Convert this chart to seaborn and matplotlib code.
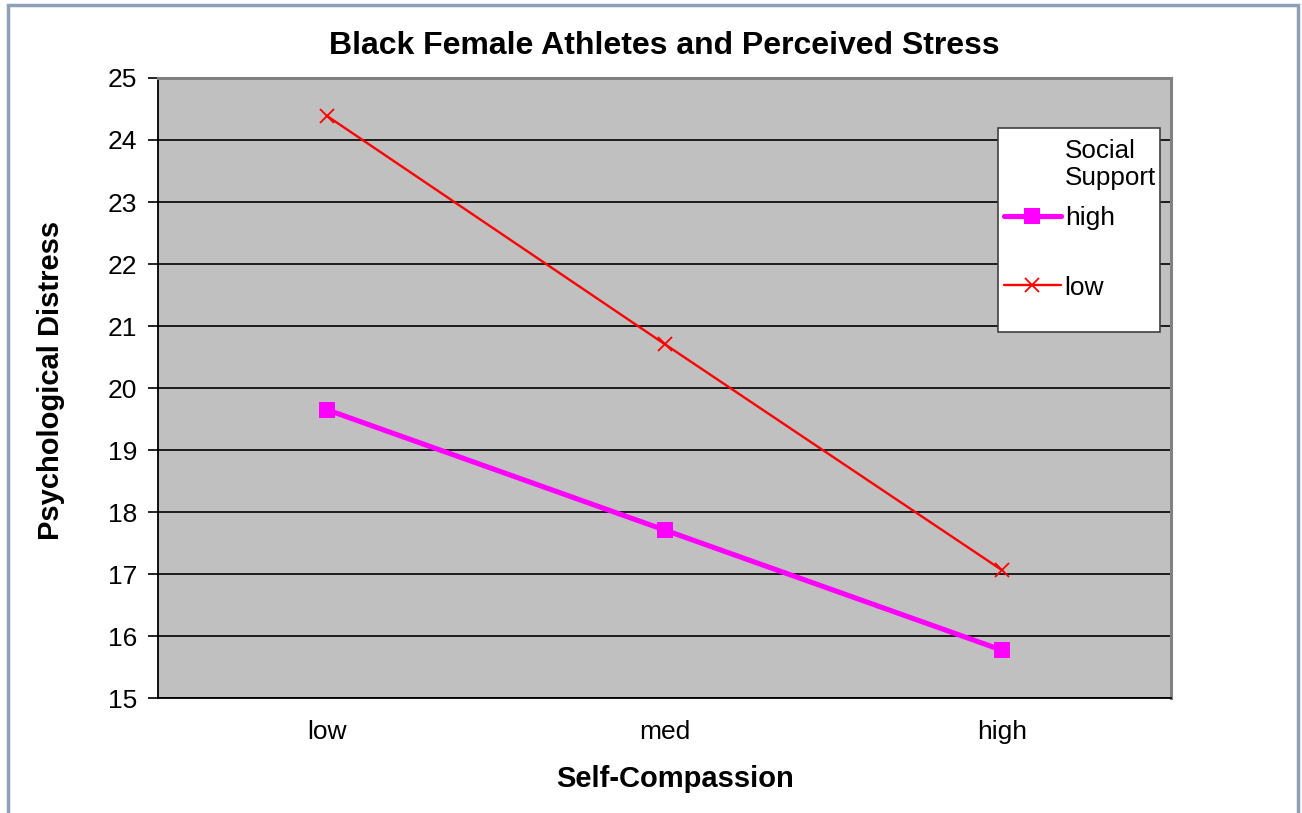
import numpy as np
import pandas as pd
import seaborn as sns
import matplotlib.pyplot as plt
from matplotlib.patches import Rectangle

# chart values
compassion = ["low", "med", "high"]
support_high = [19.65, 17.71, 15.77]
support_low = [24.39, 20.71, 17.06]
y_ticks = list(range(15, 26))

df = pd.DataFrame({
    "Self-Compassion": compassion * 2,
    "Psychological Distress": support_high + support_low,
    "Social Support": ["high"] * 3 + ["low"] * 3,
})

sns.set_style("white")
plt.rcParams['font.family'] = ['Liberation Sans', 'DejaVu Sans']
plt.rcParams['text.color'] = 'black'
plt.rcParams['xtick.color'] = 'black'
plt.rcParams['ytick.color'] = 'black'
plt.rcParams['axes.labelcolor'] = 'black'

W, H = 1302, 813
fig = plt.figure(figsize=(W / 100, H / 100), dpi=100)
ax = fig.add_axes([158 / W, 1 - 698 / H, 1013 / W, 620 / H])
ax.set_facecolor("#c0c0c0")

sns.lineplot(data=df[df["Social Support"] == "high"], x="Self-Compassion",
             y="Psychological Distress", color="#ff00ff", linewidth=3.7,
             marker="s", markersize=11, markeredgewidth=0, markeredgecolor="#ff00ff",
             sort=False, label="high", ax=ax, zorder=3)
sns.lineplot(data=df[df["Social Support"] == "low"], x="Self-Compassion",
             y="Psychological Distress", color="#ff0000", linewidth=1.7,
             marker="x", markersize=10, markeredgewidth=1.3, markeredgecolor="#ff0000",
             sort=False, label="low", ax=ax, zorder=3)

ax.set_xlim(-0.5, 2.5)
ax.set_ylim(15, 25)
ax.set_yticks(y_ticks)
ax.set_yticklabels([str(t) for t in y_ticks], fontsize=19)
ax.yaxis.grid(True, color="black", linewidth=1.2)
ax.set_axisbelow(True)

ax.set_xticks([-0.5, 0.5, 1.5, 2.5])
ax.set_xticklabels([])
ax.set_xticks([0, 1, 2], minor=True)
ax.set_xticklabels(compassion, minor=True, fontsize=19)
ax.tick_params(axis="x", which="major", length=9, width=1.2, direction="out")
ax.tick_params(axis="x", which="minor", length=0, pad=16)
ax.tick_params(axis="y", length=7, width=1.2, direction="out", pad=8, left=True)

for side in ["left", "bottom"]:
    ax.spines[side].set_color("black")
    ax.spines[side].set_linewidth(1.3)
for side in ["top", "right"]:
    ax.spines[side].set_color("#808080")
    ax.spines[side].set_linewidth(2.2)

ax.set_xlabel("Self-Compassion", fontsize=21, fontweight="bold", labelpad=15)
ax.xaxis.label.set_x(0.51)
ax.set_ylabel("Psychological Distress", fontsize=21, fontweight="bold", labelpad=31)
ax.yaxis.label.set_y(0.512)
ax.set_title("Black Female Athletes and Perceived Stress", fontsize=23,
             fontweight="bold", pad=17)

# legend: white box, title text and entries
ax.add_patch(Rectangle(((998 - 158) / 1013, (698 - 332) / 620), 162 / 1013, 204 / 620,
                       transform=ax.transAxes, facecolor="white", edgecolor="#404040",
                       linewidth=1.2, zorder=5))
ax.text((1065 - 158) / 1013, (698 - 139) / 620, "Social\nSupport", transform=ax.transAxes,
        fontsize=18.7, ha="left", va="top", zorder=6, linespacing=1.15)
leg = ax.legend(loc="upper left", bbox_to_anchor=((1004 - 158) / 1013, (698 - 206) / 620),
                borderaxespad=0, borderpad=0, fontsize=19, frameon=False,
                handlelength=2.15, handletextpad=0.15, labelspacing=1.73)
leg.set_zorder(7)

fig.patches.append(Rectangle((8 / W, -0.05), 1290 / W, 1.05 - 5 / H,
                             transform=fig.transFigure, fill=False,
                             edgecolor="#8da0b8", linewidth=2.5))

fig.savefig("out.png", dpi=100)
